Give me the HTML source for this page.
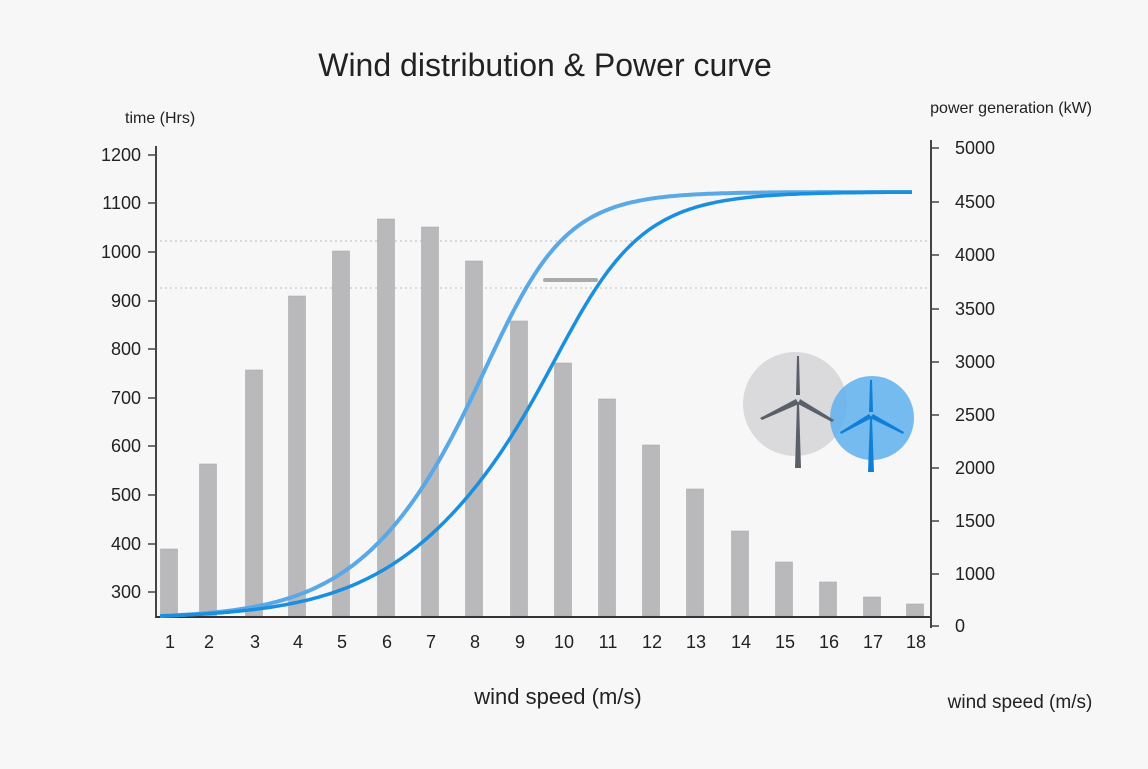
<!DOCTYPE html>
<html><head><meta charset="utf-8"><style>
body{margin:0;background:#f7f7f7;}
svg text{font-family:"Liberation Sans","DejaVu Sans",sans-serif;fill:#222;}
</style></head><body>
<svg id="s" width="1148" height="764" viewBox="0 0 1148 764" xmlns="http://www.w3.org/2000/svg">
<rect width="1148" height="764" fill="#f7f7f7"/>
<text x="545" y="76" font-size="32" text-anchor="middle" fill="#222">Wind distribution &amp; Power curve</text>
<text x="125" y="123" font-size="16">time (Hrs)</text>
<text x="1092" y="113" font-size="16" text-anchor="end">power generation  (kW)</text>
<line x1="160" y1="241" x2="930" y2="241" stroke="#bbb" stroke-dasharray="2,3"/>
<line x1="160" y1="288" x2="930" y2="288" stroke="#bbb" stroke-dasharray="2,3"/>
<g id="bars" fill="#b9b9bb" stroke="#aaa" stroke-width="0.6"></g>
<line x1="156" y1="146" x2="156" y2="618" stroke="#444" stroke-width="2"/>
<line x1="156" y1="617" x2="930" y2="617" stroke="#333" stroke-width="2"/>
<line x1="931" y1="140" x2="931" y2="628" stroke="#444" stroke-width="2"/>
<g id="lt" font-size="18" text-anchor="end"></g>
<g id="rt" font-size="18"></g>
<g id="xt" font-size="18" text-anchor="middle"></g>
<line x1="545" y1="280" x2="596" y2="280" stroke="#aaa" stroke-width="4" stroke-linecap="round"/>
<path id="c1" fill="none" stroke="#5aa9e6" stroke-width="4"/>
<path id="c2" fill="none" stroke="#1a8fe0" stroke-width="3.5"/>
<circle cx="795" cy="404" r="52" fill="#d6d6d8" opacity="0.9"/>
<circle cx="872" cy="418" r="42" fill="#5fb0ee" opacity="0.85"/>
<g fill="#5b6068">
<polygon points="795,468 801,468 799,402 797,402"/>
<polygon points="797,356 799,356 800,395 796,395"/>
<polygon points="796,399 799,404 762,420 760,418"/>
<polygon points="800,399 798,404 832,422 834,420"/>
</g>
<g fill="#0f7fd8">
<polygon points="868,472 874,472 872,418 870,418"/>
<polygon points="870,380 872,380 873,412 869,412"/>
<polygon points="869,414 872,418 841,434 840,432"/>
<polygon points="873,414 870,418 903,434 904,432"/>
</g>
<text x="558" y="704" font-size="22" text-anchor="middle">wind speed (m/s)</text>
<text x="1020" y="708" font-size="19" text-anchor="middle">wind speed (m/s)</text>
</svg>
<script>
var NS="http://www.w3.org/2000/svg";
function el(p,t,a,txt){var e=document.createElementNS(NS,t);for(var k in a)e.setAttribute(k,a[k]);if(txt!==undefined)e.textContent=txt;document.getElementById(p).appendChild(e);}
var xs=[169,208,254,297,341,386,430,474,519,563,607,651,695,740,784,828,872,915];
var tops=[549,464,370,296,251,219,227,261,321,363,399,445,489,531,562,582,597,604];
xs.forEach(function(x,i){el("bars","rect",{x:x-8.5,y:tops[i],width:17,height:616-tops[i]});
el("xt","text",{x:x+1,y:648},String(i+1));});
var ly=[[1200,155],[1100,203],[1000,252],[900,301],[800,349],[700,398],[600,446],[500,495],[400,544],[300,592]];
ly.forEach(function(p){el("lt","text",{x:141,y:p[1]+6},String(p[0]));el("lt","line",{x1:148,y1:p[1],x2:156,y2:p[1],stroke:"#444","stroke-width":1.5});});
var ry=[[5000,148],[4500,202],[4000,255],[3500,309],[3000,362],[2500,415],[2000,468],[1500,521],[1000,574],[0,626]];
ry.forEach(function(p){el("rt","text",{x:955,y:p[1]+6},String(p[0]));el("rt","line",{x1:931,y1:p[1],x2:939,y2:p[1],stroke:"#444","stroke-width":1.5});});
function curve(x0,sl,su){
  function f(x){var s=su+(sl-su)/(1+Math.exp((x-x0)/40));return 1/(1+Math.exp(-(x-x0)/s));}
  var f0=f(160),d="";
  for(var x=160;x<=913;x+=2){var v=(f(x)-f0)/(1-f0);var y=616-424*v;d+=(x==160?"M":"L")+x+","+y.toFixed(1);}
  return d;}
document.getElementById("c1").setAttribute("d",curve(468,60,44));
document.getElementById("c2").setAttribute("d",curve(530,72,50));
</script>
</body></html>
